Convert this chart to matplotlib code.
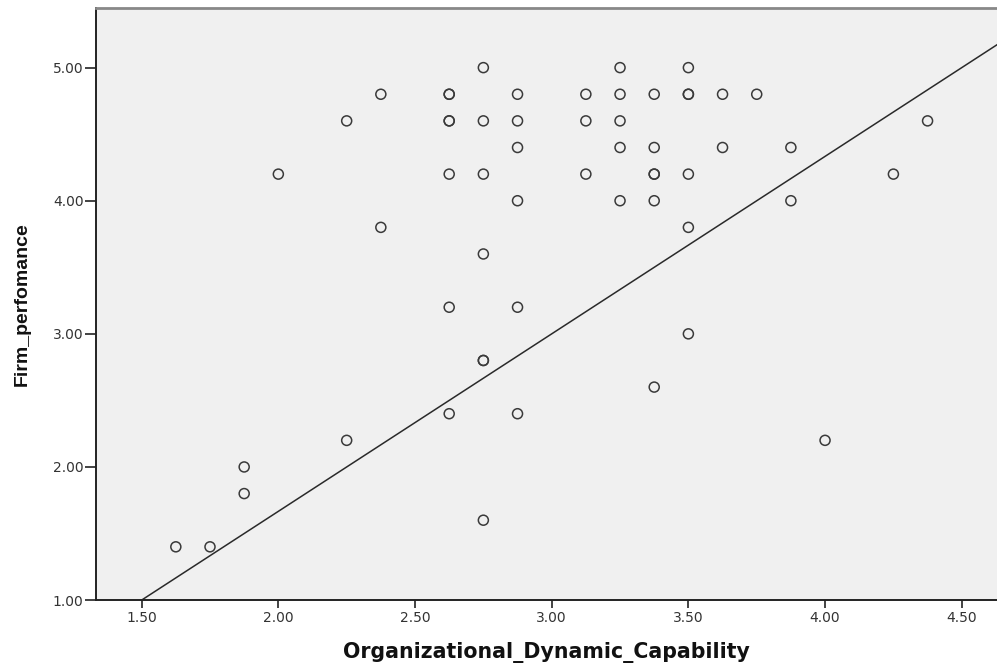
import numpy as np
import matplotlib
matplotlib.use("Agg")
import matplotlib.pyplot as plt

plt.rcParams['font.family'] = ['DejaVu Sans']

# Organizational dynamic capability vs firm performance (one entry per case)
odc = [2.75, 3.25, 3.50,
       2.375, 2.625, 2.625, 2.875, 3.125, 3.25, 3.375, 3.50, 3.50, 3.625, 3.75,
       2.25, 2.625, 2.625, 2.75, 2.875, 3.125, 3.25, 4.375,
       2.875, 3.25, 3.375, 3.625, 3.875,
       2.00, 2.625, 2.75, 3.125, 3.375, 3.375, 3.50, 4.25,
       2.875, 3.25, 3.375, 3.875,
       2.375, 3.50,
       2.75,
       2.625, 2.875,
       3.50,
       2.75, 2.75,
       3.375,
       2.625, 2.875,
       2.25, 4.00,
       1.875,
       1.875,
       2.75,
       1.625, 1.75]
firm_perf = [5.0, 5.0, 5.0,
             4.8, 4.8, 4.8, 4.8, 4.8, 4.8, 4.8, 4.8, 4.8, 4.8, 4.8,
             4.6, 4.6, 4.6, 4.6, 4.6, 4.6, 4.6, 4.6,
             4.4, 4.4, 4.4, 4.4, 4.4,
             4.2, 4.2, 4.2, 4.2, 4.2, 4.2, 4.2, 4.2,
             4.0, 4.0, 4.0, 4.0,
             3.8, 3.8,
             3.6,
             3.2, 3.2,
             3.0,
             2.8, 2.8,
             2.6,
             2.4, 2.4,
             2.2, 2.2,
             2.0,
             1.8,
             1.6,
             1.4, 1.4]

# fit line: firm_perf = intercept + slope * odc
fit_intercept = -1.0
fit_slope = 1.3333

x_ticks = [1.5, 2.0, 2.5, 3.0, 3.5, 4.0, 4.5]
y_ticks = [1.0, 2.0, 3.0, 4.0, 5.0]

fig = plt.figure(figsize=(9.97, 6.66), dpi=100)
ax = fig.add_axes([0.0963, 0.099, 0.9037, 0.889])
ax.set_facecolor('#f0f0f0')

ax.scatter(odc, firm_perf, s=52, facecolors='none', edgecolors='#3a3a3a',
           linewidths=1.1, zorder=3)

xmin, xmax = 1.333, 4.629
ymin, ymax = 1.0, 5.448
xs = np.array([xmin, xmax])
ax.plot(xs, fit_intercept + fit_slope * xs, color='#2a2a2a', lw=1.1, zorder=2)

ax.set_xlim(xmin, xmax)
ax.set_ylim(ymin, ymax)
ax.set_xticks(x_ticks)
ax.set_xticklabels([f"{v:.2f}" for v in x_ticks])
ax.set_yticks(y_ticks)
ax.set_yticklabels([f"{v:.2f}" for v in y_ticks])
ax.tick_params(direction='out', width=1.2, color='#222222',
               labelsize=10, labelcolor='#333333')
ax.tick_params(axis='x', length=6, pad=2)
ax.tick_params(axis='y', length=8, pad=1)

ax.spines['left'].set_color('#222222')
ax.spines['left'].set_linewidth(1.4)
ax.spines['bottom'].set_color('#222222')
ax.spines['bottom'].set_linewidth(1.4)
ax.spines['top'].set_color('#888888')
ax.spines['top'].set_linewidth(2.0)
ax.spines['right'].set_visible(False)

ax.set_xlabel('Organizational_Dynamic_Capability', fontsize=14.8, fontweight='bold',
              color='#111111', labelpad=12)
ax.set_ylabel('Firm_perfomance', family='Liberation Sans', fontsize=14,
              fontweight='bold', color='#111111', labelpad=16)

fig.savefig('out.png', dpi=100, facecolor='white')
